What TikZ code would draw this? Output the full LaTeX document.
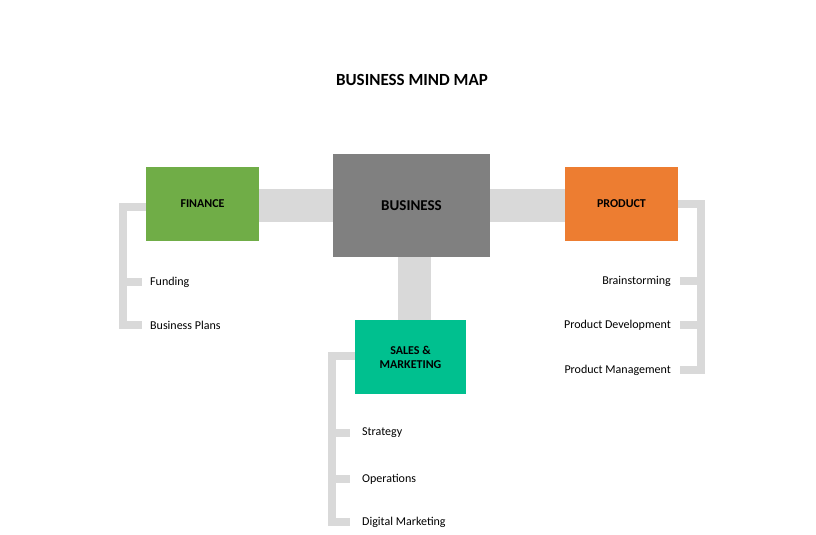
\documentclass[tikz,border=0pt]{standalone}
\usepackage{fontspec}
\setmainfont{Carlito}
\usetikzlibrary{positioning}
\definecolor{barGray}{RGB}{217,217,217}
\definecolor{hubGray}{RGB}{128,128,128}
\definecolor{finGreen}{RGB}{112,173,71}
\definecolor{prodOrange}{RGB}{237,125,49}
\definecolor{salesTeal}{RGB}{0,192,143}
\tikzset{
  topic/.style={minimum width=113pt,minimum height=74pt,inner sep=0pt,align=center,font=\fontsize{12}{14}\selectfont\bfseries},
  item/.style={inner sep=0pt,font=\fontsize{12}{14}\selectfont},
  bar/.style={barGray,line width=33pt},
  tick/.style={barGray,line width=8pt}
}
\begin{document}
\begin{tikzpicture}[x=1pt,y=-1pt]
	\useasboundingbox (0,0) rectangle (816,535);

	\node[font=\fontsize{17}{20}\selectfont\bfseries] (title) at (412,80) {BUSINESS MIND MAP};

	% bars behind the boxes
	\draw[bar] (259,205.5) -- (565,205.5);
	\draw[bar] (414.5,257) -- (414.5,320);

	\node[topic,fill=hubGray,minimum width=157pt,minimum height=103pt,font=\fontsize{15}{18}\selectfont\bfseries] (business) at (411.5,205.5) {BUSINESS};
	\node[topic,fill=finGreen] (finance) at (202.5,204) {FINANCE};
	\node[topic,fill=prodOrange] (product) at (621.5,204) {PRODUCT};
	\node[topic,fill=salesTeal,minimum width=111pt] (sales) at (410.5,357) {SALES \&\\MARKETING};

	% finance branch
	\node[item,anchor=west] (funding) at (150,282) {Funding};
	\node[item,anchor=west] (plans) at (150,325) {Business Plans};
	\coordinate (finTop) at (123,207);
	\draw[tick] (finance.west |- finTop) -- (finTop) -- (123,329);
	\draw[tick] (123,282) -- ([xshift=-8pt]funding.west);
	\draw[tick] (123,325) -- ([xshift=-8pt]plans.west);

	% product branch
	\node[item,anchor=east] (brain) at (671,281) {Brainstorming};
	\node[item,anchor=east] (develop) at (671,325) {Product Development};
	\node[item,anchor=east] (manage) at (671,370) {Product Management};
	\coordinate (prodTop) at (701,204);
	\draw[tick] (product.east |- prodTop) -- (prodTop) -- (701,374);
	\draw[tick] (701,281) -- ([xshift=9pt]brain.east);
	\draw[tick] (701,325) -- ([xshift=9pt]develop.east);
	\draw[tick] (701,370) -- ([xshift=9pt]manage.east);

	% sales branch
	\node[item,anchor=west] (strategy) at (362,433) {Strategy};
	\node[item,anchor=west] (ops) at (362,479) {Operations};
	\node[item,anchor=west] (digital) at (362,522) {Digital Marketing};
	\coordinate (salesTop) at (332,356);
	\draw[tick] (sales.west |- salesTop) -- (salesTop) -- (332,526);
	\draw[tick] (332,433) -- ([xshift=-12pt]strategy.west);
	\draw[tick] (332,479) -- ([xshift=-12pt]ops.west);
	\draw[tick] (332,522) -- ([xshift=-12pt]digital.west);
\end{tikzpicture}
\end{document}
